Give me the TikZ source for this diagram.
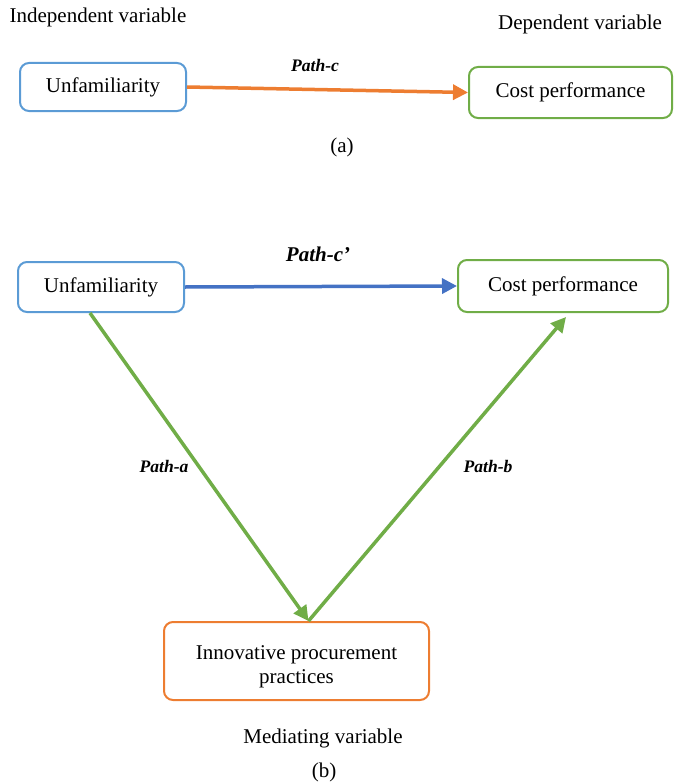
\documentclass[tikz,border=0pt]{standalone}
\usepackage{fontspec}
\setmainfont{Liberation Serif}
\usetikzlibrary{arrows.meta}

\definecolor{boxblue}{RGB}{91,155,213}
\definecolor{boxgreen}{RGB}{112,173,71}
\definecolor{boxorange}{RGB}{237,125,49}
\definecolor{arrowblue}{RGB}{68,114,196}

\tikzset{
    varbox/.style={draw, line width=2pt, rounded corners=9pt, align=center, font=\fontsize{21}{24}\selectfont},
    pathlabel/.style={font=\fontsize{17.6}{20}\selectfont\bfseries\itshape},
    plain/.style={font=\fontsize{21}{24}\selectfont},
    link/.style={line width=3.5pt, -{Triangle[length=15pt,width=15pt]}}
}

\begin{document}
\begin{tikzpicture}[x=1pt, y=-1pt]
    \useasboundingbox (0,0) rectangle (673,784);

    % (a) direct effect
    \node[plain] (indep) at (98,17) {Independent variable};
    \node[plain] (dep) at (580,24) {Dependent variable};
    \node[varbox, boxblue, text=black, minimum width=166pt, minimum height=48pt] (unf1) at (103,87) {Unfamiliarity};
    \node[varbox, boxgreen, text=black, minimum width=203pt, minimum height=51pt] (cost1) at (570.5,92.5) {Cost performance};
    \draw[link, boxorange] (unf1.east) -- (cost1.west);
    \node[pathlabel] (pc) at (315,65) {Path-c};
    \node[plain] (capa) at (342,147) {(a)};

    % (b) mediated effect
    \node[varbox, boxblue, text=black, minimum width=166pt, minimum height=50pt] (unf2) at (101,287) {Unfamiliarity};
    \node[varbox, boxgreen, text=black, minimum width=210pt, minimum height=52pt] (cost2) at (563,286) {Cost performance};
    \node[varbox, boxorange, text=black, minimum width=265pt, minimum height=78pt] (ipp) at (296.5,661) {\rule{0pt}{26pt}Innovative procurement\\practices};
    \draw[link, arrowblue] (unf2.east) -- (cost2.west);
    \draw[link, boxgreen] ([xshift=-11pt]unf2.south) -- ([xshift=12pt]ipp.north);
    \draw[link, boxgreen] ([xshift=12pt]ipp.north) -- ([xshift=3pt,yshift=-4pt]cost2.south);
    \node[pathlabel, font=\fontsize{21}{24}\selectfont\bfseries\itshape] (pcp) at (318,254) {Path-c’};
    \node[pathlabel] (pa) at (164,466) {Path-a};
    \node[pathlabel] (pb) at (488,466) {Path-b};
    \node[plain] (med) at (323,738) {Mediating variable};
    \node[plain] (capb) at (324,772) {(b)};
\end{tikzpicture}
\end{document}
